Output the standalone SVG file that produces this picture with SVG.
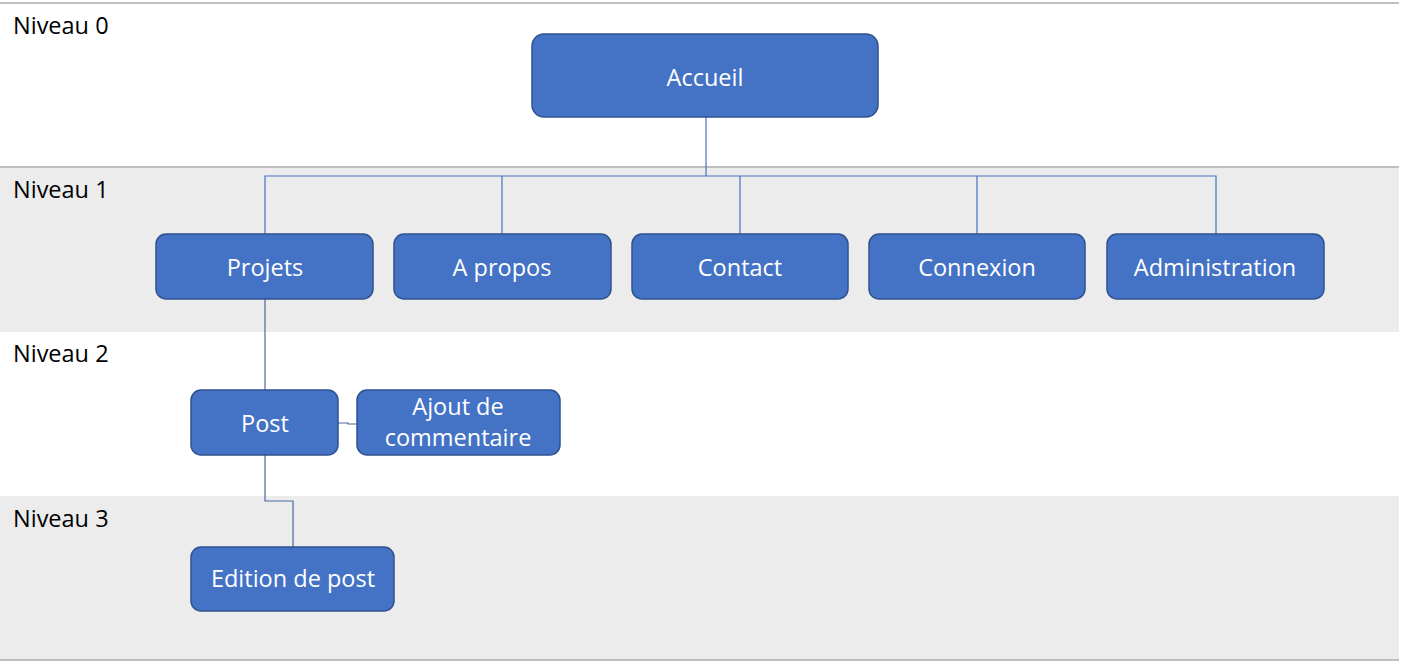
<svg xmlns="http://www.w3.org/2000/svg" width="1403" height="664" viewBox="0 0 1403 664">
<style>
.band{fill:#ececec}
.sep{stroke:#bfbfbf;stroke-width:2}
.lvl{font-family:"Open Sans","Noto Sans",sans-serif;font-size:23.5px;fill:#000}
.box{fill:#4472c4;stroke:#2f528f;stroke-width:1.5}
.t{font-family:"Open Sans","Noto Sans",sans-serif;font-size:23.5px;fill:#fff;text-anchor:middle}
.c{fill:none;stroke:#4472c4;stroke-width:1.2}
</style>
<rect width="1403" height="664" fill="#fff"/>
<g id="bands">
<rect class="band" x="0" y="167" width="1399" height="165"/>
<rect class="band" x="0" y="496" width="1399" height="164"/>
<line class="sep" x1="0" y1="3" x2="1399" y2="3"/>
<line class="sep" x1="0" y1="167" x2="1399" y2="167"/>
<line class="sep" x1="0" y1="660" x2="1399" y2="660"/>
<text class="lvl" x="13" y="34">Niveau 0</text>
<text class="lvl" x="13" y="198">Niveau 1</text>
<text class="lvl" x="13" y="362">Niveau 2</text>
<text class="lvl" x="13" y="527">Niveau 3</text>
</g>
<g id="connectors">
<path class="c" d="M706 117V176M265 234V176H1216V234M502 176V234M740 176V234M977 176V234"/>
<path class="c" d="M265 299V390" style="stroke:#4a6aa5"/>
<path class="c" d="M338 423H348V424H357" style="stroke:#4a6aa5"/>
<path class="c" d="M265 455V501H293V547" style="stroke:#4a6aa5"/>
</g>
<g id="accueil"><rect class="box" x="532" y="34" width="346" height="83" rx="12"/><text class="t" x="705" y="86">Accueil</text></g>
<g id="projets"><rect class="box" x="156" y="234" width="217" height="65" rx="10"/><text class="t" x="265" y="276">Projets</text></g>
<g id="apropos"><rect class="box" x="394" y="234" width="217" height="65" rx="10"/><text class="t" x="502" y="276">A propos</text></g>
<g id="contact"><rect class="box" x="632" y="234" width="216" height="65" rx="10"/><text class="t" x="740" y="276">Contact</text></g>
<g id="connexion"><rect class="box" x="869" y="234" width="216" height="65" rx="10"/><text class="t" x="977" y="276">Connexion</text></g>
<g id="administration"><rect class="box" x="1107" y="234" width="217" height="65" rx="10"/><text class="t" x="1215" y="276">Administration</text></g>
<g id="post"><rect class="box" x="191" y="390" width="147" height="65" rx="10"/><text class="t" x="265" y="432">Post</text></g>
<g id="ajout"><rect class="box" x="357" y="390" width="203" height="65" rx="10"/><text class="t" x="458" y="415">Ajout de</text><text class="t" x="458" y="446">commentaire</text></g>
<g id="edition"><rect class="box" x="191" y="547" width="203" height="64" rx="10"/><text class="t" x="293" y="587">Edition de post</text></g>
</svg>
